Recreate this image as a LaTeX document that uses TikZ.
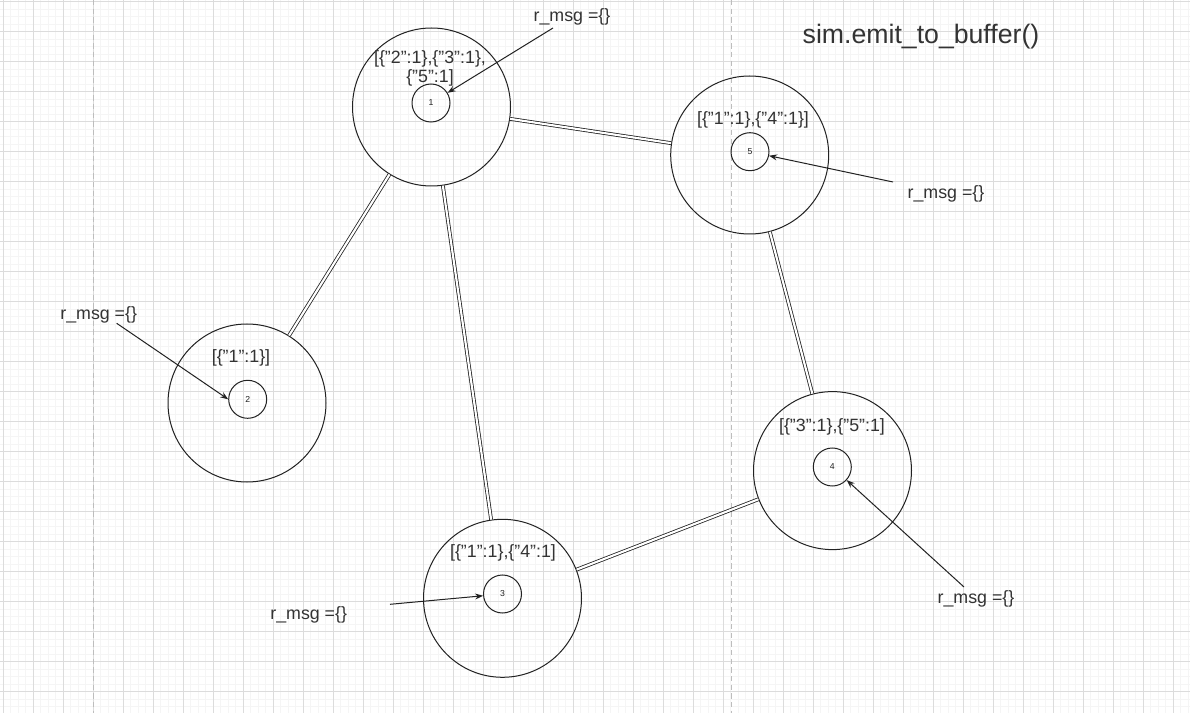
\documentclass[tikz,border=0pt]{standalone}
\usepackage{fontspec}
\setmainfont{Liberation Sans}
\usetikzlibrary{arrows.meta}
\definecolor{txt}{HTML}{333333}
\definecolor{gridminor}{HTML}{F5F5F5}
\definecolor{gridmajor}{HTML}{DCDCDC}
\definecolor{pagebreak}{HTML}{BDBDBD}
\definecolor{ink}{HTML}{222222}
\begin{document}
\begin{tikzpicture}[x=0.75pt,y=-0.75pt,
  big/.style={circle,draw=ink,line width=0.75pt,minimum size=118.5pt,inner sep=0pt},
  small/.style={circle,draw=ink,line width=0.75pt,minimum size=28.5pt,inner sep=0pt,font=\fontsize{6.5}{7}\selectfont,text=ink},
  lbl/.style={text=txt,font=\fontsize{13.35}{14.3}\selectfont,inner sep=0pt,align=center},
  title/.style={text=txt,font=\fontsize{20}{24}\selectfont,inner sep=0pt},
  link/.style={draw=ink,line width=0.6pt,double=white,double distance=1.6pt},
  arr/.style={draw=ink,line width=0.75pt,-{Stealth[length=6pt,width=4.5pt]}},
  minorline/.style={draw=gridminor,line width=0.6pt},
  majorline/.style={draw=gridmajor,line width=0.75pt},
  pageline/.style={draw=pagebreak,line width=0.75pt,dash pattern=on 4pt off 2.5pt}]

\useasboundingbox (0,0) rectangle (1190,713);
\fill[white] (0,0) rectangle (1190,713);

% grid
\foreach \i in {0,...,158} {\draw[minorline] ({3.3+7.5*\i},0) -- ({3.3+7.5*\i},713);}
\foreach \i in {0,...,95} {\draw[minorline] (0,{1.7+7.5*\i}) -- (1190,{1.7+7.5*\i});}
\foreach \i in {0,...,39} {\draw[majorline] ({3.3+30*\i},0) -- ({3.3+30*\i},713);}
\foreach \i in {0,...,23} {\draw[majorline] (0,{1.7+30*\i}) -- (1190,{1.7+30*\i});}
\draw[pageline] (93.3,0) -- (93.3,713);
\draw[pageline] (731.2,0) -- (731.2,713);

% nodes
\node[big] (b1) at (431.5,107) {};
\node[big] (b5) at (749.7,155) {};
\node[big] (b2) at (247,403) {};
\node[big] (b4) at (832.5,470.6) {};
\node[big] (b3) at (502.5,598.3) {};

\node[small] (s1) at (431,103) {1};
\node[small] (s5) at (750,151.7) {5};
\node[small] (s2) at (247.7,399.3) {2};
\node[small] (s4) at (832.3,467) {4};
\node[small] (s3) at (502.5,594) {3};

% buffer labels
\node[lbl] (l1) at (430,68.5) {[\{"2":1\},\{"3":1\},\\\{"5":1]};
\node[lbl] (l5) at (753,120) {[\{"1":1\},\{"4":1\}]};
\node[lbl] (l2) at (241,358.3) {[\{"1":1\}]};
\node[lbl] (l4) at (832,426.7) {[\{"3":1\},\{"5":1]};
\node[lbl] (l3) at (503,553.3) {[\{"1":1\},\{"4":1]};

% r_msg labels
\node[lbl] (m1) at (572,17) {r\_msg =\{\}};
\node[lbl] (m5) at (946,194) {r\_msg =\{\}};
\node[lbl] (m2) at (98.7,315) {r\_msg =\{\}};
\node[lbl] (m4) at (976,599) {r\_msg =\{\}};
\node[lbl] (m3) at (308.7,615) {r\_msg =\{\}};

\node[title] (t) at (921,37) {sim.emit\_to\_buffer()};

% links
\draw[link] (b1) -- (b5);
\draw[link] (b1) -- (b2);
\draw[link] (b1) -- (b3);
\draw[link] (b3) -- (b4);
\draw[link] (b5) -- (b4);

% arrows
\coordinate (a1) at (553,28);
\coordinate (a5) at (893,182);
\coordinate (a2) at (116.7,323.3);
\coordinate (a4) at (964,587);
\coordinate (a3) at (390,604.3);
\draw[arr] (a1) -- (s1);
\draw[arr] (a5) -- (s5);
\draw[arr] (a2) -- (s2.west);
\draw[arr] (a4) -- (s4);
\draw[arr] (a3) -- (s3);
\end{tikzpicture}
\end{document}
